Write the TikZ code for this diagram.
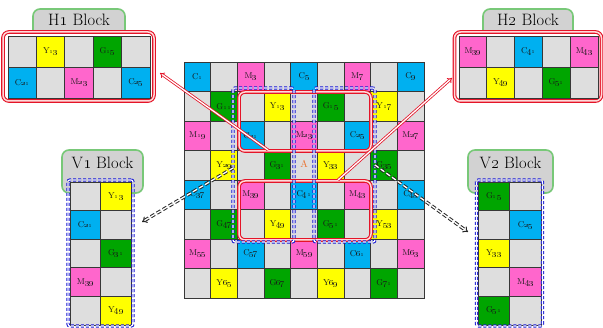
\documentclass[tikz,border=0pt]{standalone}
\usetikzlibrary{arrows.meta,calc}
\definecolor{cC}{RGB}{0,176,240}
\definecolor{cM}{RGB}{255,102,204}
\definecolor{cY}{RGB}{255,255,0}
\definecolor{cG}{RGB}{0,165,0}
\definecolor{cE}{RGB}{222,222,222}
\definecolor{cB}{RGB}{55,55,55}
\definecolor{tabG}{RGB}{120,200,120}
\definecolor{tabF}{RGB}{210,210,210}
\definecolor{redL}{RGB}{228,20,40}
\definecolor{bluL}{RGB}{25,25,210}
\definecolor{orA}{RGB}{235,110,40}
\tikzset{
  cellbase/.style={draw=cB, line width=0.7pt, inner sep=0pt, fill=cE, text=black!90,
    font=\fontsize{8.5}{9}\selectfont},
  gcell/.style={cellbase, minimum width=26.67pt, minimum height=29.5pt},
  hacell/.style={cellbase, minimum width=28.4pt, minimum height=31pt},
  hbcell/.style={cellbase, minimum width=27.8pt, minimum height=31pt},
  vacell/.style={cellbase, minimum width=30.5pt, minimum height=28.6pt},
  vbcell/.style={cellbase, minimum width=31.5pt, minimum height=28.6pt},
  tabbox/.style={draw=tabG, line width=1.6pt, fill=tabF, rounded corners=7pt, inner sep=0pt},
  tabtext/.style={font=\fontsize{16.5}{18}\selectfont, text=black, inner sep=0pt},
  redbox/.style={draw=redL, line width=1.1pt, double=white!85!red, double distance=1.5pt,
    rounded corners=6pt, inner sep=0pt},
  bluebox/.style={draw=bluL, line width=1.0pt, double=white, double distance=1.2pt,
    dash pattern=on 3pt off 2pt, rounded corners=2pt, inner sep=0pt},
  redarrow/.style={draw=redL, line width=0.8pt, double=white, double distance=1.3pt,
    -{Implies[length=6.5pt]}},
  blackarrow/.style={draw=black!85, line width=1.0pt, double=white, double distance=1.3pt,
    dash pattern=on 4.5pt off 2.5pt, -{Implies[length=7pt]}},
}
\newcommand{\cellab}[2]{#1\oldstylenums{#2}}
\begin{document}
\begin{tikzpicture}[x=1pt,y=-1pt]
\useasboundingbox (0,0) rectangle (603,328);

% ---------- main grid ----------
\foreach \r in {1,...,8}
  \foreach \c in {1,...,9}
    \node[gcell] (g\r-\c) at ({184+(\c-0.5)*26.667},{62+(\r-0.5)*29.5}) {};
\foreach \r/\c/\k/\L/\N in {
  1/1/cC/C/1, 1/3/cM/M/3, 1/5/cC/C/5, 1/7/cM/M/7, 1/9/cC/C/9,
  2/2/cG/G/11, 2/4/cY/Y/13, 2/6/cG/G/15, 2/8/cY/Y/17,
  3/1/cM/M/19, 3/3/cC/C/21, 3/5/cM/M/23, 3/7/cC/C/25, 3/9/cM/M/27,
  4/2/cY/Y/29, 4/4/cG/G/31, 4/6/cY/Y/33, 4/8/cG/G/35,
  5/1/cC/C/37, 5/3/cM/M/39, 5/5/cC/C/41, 5/7/cM/M/43, 5/9/cC/C/45,
  6/2/cG/G/47, 6/4/cY/Y/49, 6/6/cG/G/51, 6/8/cY/Y/53,
  7/1/cM/M/55, 7/3/cC/C/57, 7/5/cM/M/59, 7/7/cC/C/61, 7/9/cM/M/63,
  8/2/cY/Y/65, 8/4/cG/G/67, 8/6/cY/Y/69, 8/8/cG/G/71}
    \node[gcell, fill=\k] (t\r-\c) at (g\r-\c) {\cellab{\L}{\N}};

\node[text=orA, font=\fontsize{10}{11}\selectfont, inner sep=0pt] (lblA) at (304,164) {A};

% red selections in grid
\node[redbox, minimum width=132pt, minimum height=59pt] (h1g) at (305,121.5) {};
\node[redbox, minimum width=132pt, minimum height=59pt] (h2g) at (305,210.5) {};
% blue selections in grid
\node[bluebox, minimum width=61pt, minimum height=154pt] (v1g) at (263.5,165) {};
\node[bluebox, minimum width=61pt, minimum height=154pt] (v2g) at (344.5,165) {};

% ---------- H1 block ----------
\node[tabbox, minimum width=92pt, minimum height=32pt] (h1tab) at (79,25) {};
\node[tabtext] (h1txt) at (79,20) {H\oldstylenums{1} Block};
\node[redbox, fill=white, minimum width=151pt, minimum height=69pt] (h1b) at (78.5,66.5) {};
\foreach \r in {1,2}
  \foreach \c in {1,...,5}
    \node[hacell] (ha\r-\c) at ({8+(\c-0.5)*28.4},{36+(\r-0.5)*31}) {};
\foreach \r/\c/\k/\L/\N in {1/2/cY/Y/13, 1/4/cG/G/15, 2/1/cC/C/21, 2/3/cM/M/23, 2/5/cC/C/25}
  \node[hacell, fill=\k] (hat\r-\c) at (ha\r-\c) {\cellab{\L}{\N}};

% ---------- H2 block ----------
\node[tabbox, minimum width=90pt, minimum height=32pt] (h2tab) at (528,25) {};
\node[tabtext] (h2txt) at (528,20) {H\oldstylenums{2} Block};
\node[redbox, fill=white, minimum width=147pt, minimum height=69pt] (h2b) at (528,66.5) {};
\foreach \r in {1,2}
  \foreach \c in {1,...,5}
    \node[hbcell] (hb\r-\c) at ({459+(\c-0.5)*27.8},{36+(\r-0.5)*31}) {};
\foreach \r/\c/\k/\L/\N in {1/1/cM/M/39, 1/3/cC/C/41, 1/5/cM/M/43, 2/2/cY/Y/49, 2/4/cG/G/51}
  \node[hbcell, fill=\k] (hbt\r-\c) at (hb\r-\c) {\cellab{\L}{\N}};

% ---------- V1 block ----------
\node[tabbox, minimum width=81pt, minimum height=43pt] (v1tab) at (102.5,171.5) {};
\node[tabtext] (v1txt) at (102.5,163) {V\oldstylenums{1} Block};
\foreach \r in {1,...,5}
  \foreach \c in {1,2}
    \node[vacell] (va\r-\c) at ({70+(\c-0.5)*30.5},{182+(\r-0.5)*28.6}) {};
\foreach \r/\c/\k/\L/\N in {1/2/cY/Y/13, 2/1/cC/C/21, 3/2/cG/G/31, 4/1/cM/M/39, 5/2/cY/Y/49}
  \node[vacell, fill=\k] (vat\r-\c) at (va\r-\c) {\cellab{\L}{\N}};
\node[bluebox, minimum width=65pt, minimum height=146pt] (v1b) at (100.5,253) {};

% ---------- V2 block ----------
\node[tabbox, minimum width=85pt, minimum height=43pt] (v2tab) at (510.5,171.5) {};
\node[tabtext] (v2txt) at (510.5,163) {V\oldstylenums{2} Block};
\foreach \r in {1,...,5}
  \foreach \c in {1,2}
    \node[vbcell] (vb\r-\c) at ({478+(\c-0.5)*31.5},{182+(\r-0.5)*28.6}) {};
\foreach \r/\c/\k/\L/\N in {1/1/cG/G/15, 2/2/cC/C/25, 3/1/cY/Y/33, 4/2/cM/M/43, 5/1/cG/G/51}
  \node[vbcell, fill=\k] (vbt\r-\c) at (vb\r-\c) {\cellab{\L}{\N}};
\node[bluebox, minimum width=66pt, minimum height=146pt] (v2b) at (509.5,253) {};

% ---------- arrows ----------
\coordinate (a1s) at (268,150);
\coordinate (a1e) at (160,73);
\coordinate (a2s) at (338,180);
\coordinate (a2e) at (452,78);
\coordinate (b1s) at (233,168);
\coordinate (b1e) at (142,222);
\coordinate (b2s) at (375,165);
\coordinate (b2e) at (468,232);
\draw[redarrow] (a1s) -- (a1e);
\draw[redarrow] (a2s) -- (a2e);
\draw[blackarrow] (b1s) -- (b1e);
\draw[blackarrow] (b2s) -- (b2e);
\end{tikzpicture}
\end{document}
